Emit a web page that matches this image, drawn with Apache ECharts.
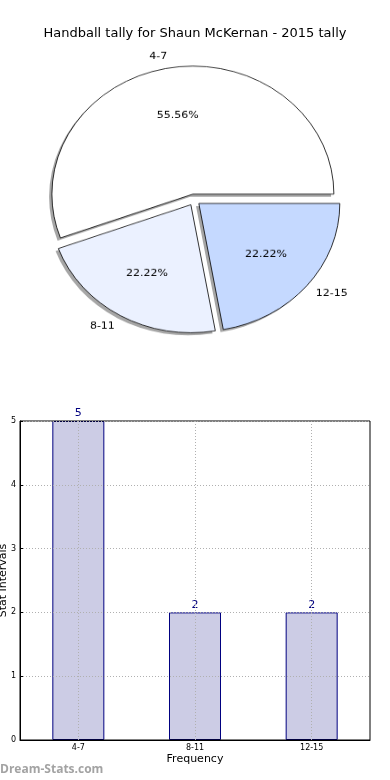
<!DOCTYPE html>
<html><head><meta charset="utf-8">
<script src="https://cdn.jsdelivr.net/npm/echarts@6/dist/echarts.min.js"></script>
<style>
html,body{margin:0;padding:0;background:#fff;}
#main{position:absolute;left:0;top:0;width:390px;height:780px;}
#pie{position:absolute;left:0;top:0;width:390px;height:400px;transform:scaleY(0.908);transform-origin:0 0;}
</style></head>
<body>
<div id="main"></div>
<div id="pie"></div>
<script>
const titleText = 'Handball tally for Shaun McKernan - 2015 tally';
const categories = ['4-7', '8-11', '12-15'];
const counts = [5, 2, 2];
const yTicks = [0, 1, 2, 3, 4, 5];
const pieColors = ['#ffffff', '#ebf1ff', '#c5d9ff'];
const FONT = 'DejaVu Sans';

const main = echarts.init(document.getElementById('main'), null, {renderer: 'canvas'});
main.setOption({
  animation: false,
  textStyle: {fontFamily: FONT},
  title: {text: titleText, left: 'center', top: 22,
    textStyle: {fontSize: 13, fontWeight: 'normal', color: '#000', fontFamily: FONT}},
  graphic: [{type: 'text', left: 0, top: 764,
    style: {text: 'Dream-Stats.com', fontSize: 12, fontWeight: 'bold', fill: '#a3a3a3', fontFamily: 'Open Sans'}}],
  grid: {left: 20, right: 20, top: 421, bottom: 40, containLabel: false, outerBoundsMode: 'none',
    show: true, borderColor: '#000', borderWidth: 1, backgroundColor: 'transparent'},
  xAxis: {type: 'category', data: categories,
    axisLine: {lineStyle: {color: '#000'}},
    axisTick: {show: false},
    axisLabel: {fontSize: 8, color: '#000', margin: 4, fontFamily: FONT},
    splitLine: {show: true, alignWithLabel: true, lineStyle: {color: '#b0b0b0', type: [1, 2]}},
    name: 'Frequency', nameLocation: 'middle', nameGap: 14, nameMoveOverlap: false,
    nameTextStyle: {fontSize: 11, color: '#000', fontFamily: FONT}},
  yAxis: {type: 'value', min: yTicks[0], max: yTicks[yTicks.length - 1], interval: 1,
    axisLine: {show: true, lineStyle: {color: '#000'}},
    axisTick: {show: true, inside: true, length: 3, lineStyle: {color: '#000'}},
    axisLabel: {fontSize: 8, color: '#000', margin: 4, fontFamily: FONT},
    splitLine: {show: true, lineStyle: {color: '#b0b0b0', type: [1, 2]}},
    name: 'Stat Intervals', nameLocation: 'middle', nameRotate: 90, nameGap: 11, nameMoveOverlap: false,
    nameTextStyle: {fontSize: 11, color: '#000', fontFamily: FONT}},
  series: [{type: 'bar', data: counts, barWidth: 52, z: -1,
    itemStyle: {color: '#cccce5', borderColor: '#000080', borderWidth: 1},
    label: {show: true, position: 'top', distance: 2, color: '#000080', fontSize: 11, fontFamily: FONT}}]
});

const R = 141;
const CX = 194, CY = 220;
const pieData = categories.map((c, i) => ({name: c, value: counts[i], selected: true, itemStyle: {color: pieColors[i]}}));
const ghostData = categories.map((c, i) => ({name: c, value: counts[i], selected: true}));
const common = {type: 'pie', startAngle: 0, clockwise: false, selectedMode: 'multiple', selectedOffset: 6.3,
  avoidLabelOverlap: false, silent: true, emphasis: {disabled: true}};
const pie = echarts.init(document.getElementById('pie'), null, {renderer: 'canvas'});
pie.setOption({
  animation: false,
  series: [
    Object.assign({}, common, {center: [CX - 2.8, CY + 2.9], radius: [0, R], z: 1,
      data: ghostData,
      itemStyle: {color: 'rgba(77,77,77,0.5)', borderWidth: 0},
      label: {show: false}, labelLine: {show: false}}),
    Object.assign({}, common, {center: [CX, CY], radius: [0, R], z: 2,
      data: pieData,
      itemStyle: {borderColor: '#000', borderWidth: 0.8},
      label: {show: true, position: 'outside', color: '#000', fontSize: 11, fontFamily: FONT, formatter: '{b}'},
      labelLine: {show: false, length: 13, length2: -6}}),
    Object.assign({}, common, {center: [CX, CY], radius: [R * 0.2, R], z: 3,
      data: ghostData,
      itemStyle: {color: 'transparent', borderWidth: 0},
      label: {show: true, position: 'inside', color: '#000', fontSize: 11, fontFamily: FONT, formatter: '{d}%'},
      labelLine: {show: false}})
  ]
});
</script>
</body></html>
